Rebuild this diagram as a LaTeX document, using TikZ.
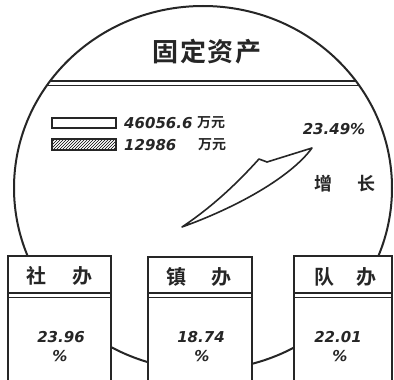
\documentclass[tikz,border=0pt]{standalone}
\usepackage{fontspec}
\setmainfont{DejaVu Sans}
\newfontfamily\cjk{Noto Sans CJK SC}
\newfontfamily\cjkb{Noto Sans CJK SC Bold}
\newfontfamily\numf{DejaVu Sans}[ItalicFont={DejaVu Sans Oblique}, BoldItalicFont={DejaVu Sans Bold Oblique}]
\usetikzlibrary{patterns}
\tikzset{
  outline/.style={line width=2pt, draw=black!85},
  boxline/.style={line width=1.5pt, draw=black!85, fill=white},
  thin/.style={line width=0.9pt, draw=black!85},
  cjktext/.style={inner sep=0pt, font=\cjkb\fontsize{20}{20}\selectfont, text=black!85},
  numtext/.style={inner sep=0pt, font=\numf\bfseries\itshape\fontsize{15}{15}\selectfont, text=black!85},
  legtext/.style={inner sep=0pt, anchor=west, font=\numf\bfseries\itshape\fontsize{15}{15}\selectfont, text=black!85},
  wantext/.style={inner sep=0pt, font=\cjkb\fontsize{14}{14}\selectfont, text=black!85},
}
\begin{document}
\begin{tikzpicture}[x=1pt,y=-1pt]
\useasboundingbox (0,0) rectangle (394,380);
\fill[white] (0,0) rectangle (394,380);
% big circle
\draw[outline] (203,188) ellipse [x radius=189, y radius=182];
\begin{scope}
  \clip (203,188) ellipse [x radius=189, y radius=182];
  \draw[line width=1.8pt, draw=black!85] (0,81) -- (394,81);
  \draw[thin] (0,85.5) -- (394,85.5);
\end{scope}
% title
\node[inner sep=0pt, font=\cjkb\fontsize{26}{26}\selectfont\addfontfeature{LetterSpace=6}, text=black!85] (title) at (207,52) {固定资产};
% legend
\draw[line width=1.3pt, draw=black!85] (52,118) rectangle (116,128);
\draw[line width=1.3pt, draw=black!85, pattern=north east lines] (52,139) rectangle (116,150);
\node[legtext] (leg1) at (124,123) {46056.6};
\node[wantext] (wan1) at (211,123) {万元};
\node[legtext] (leg2) at (124,145) {12986};
\node[wantext] (wan2) at (212,145) {万元};
% growth
\node[numtext, font=\numf\bfseries\itshape\fontsize{15}{15}\selectfont] (pct) at (334,129) {23.49\%};
\node[cjktext, font=\cjkb\fontsize{18}{18}\selectfont] (grow) at (345,184) {增\hspace{26pt}长};
% wedge
\draw[line width=1.6pt, draw=black!85, line join=round]
  (182,227) .. controls (215,205) and (240,180) .. (259,159)
  -- (267,162) -- (312,148)
  .. controls (290,178) and (235,208) .. cycle;
% boxes
\draw[boxline] (8,256) rectangle (111,392);
\draw[boxline] (148,257) rectangle (252,392);
\draw[boxline] (294,256) rectangle (392,392);
\foreach \a/\b in {8/111,148/252,294/392}{
  \draw[line width=1.5pt, draw=black!85] (\a,293) -- (\b,293);
  \draw[thin] (\a,297.5) -- (\b,297.5);
}
\node[cjktext] (she) at (60,276) {社\hspace{26pt}办};
\node[cjktext] (zhen) at (199,277) {镇\hspace{25pt}办};
\node[cjktext] (dui) at (345,277) {队\hspace{22pt}办};
\node[numtext] (v1) at (61,337) {23.96};
\node[numtext] (p1) at (60,356) {\%};
\node[numtext] (v2) at (201,337) {18.74};
\node[numtext] (p2) at (202,356) {\%};
\node[numtext] (v3) at (338,337) {22.01};
\node[numtext] (p3) at (340,356) {\%};
\end{tikzpicture}
\end{document}
